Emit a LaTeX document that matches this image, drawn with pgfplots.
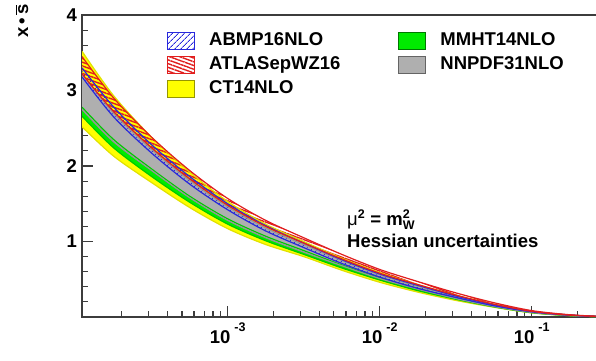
\documentclass[border=0pt]{standalone}
\usepackage{fontspec}
\setmainfont{Liberation Sans}
\usepackage{pgfplots}
\pgfplotsset{compat=1.18}
\usepackage{pgfplotstable}
\usepgfplotslibrary{fillbetween}
\usetikzlibrary{patterns.meta}

\definecolor{ctc}{RGB}{255,255,0}
\definecolor{cte}{RGB}{225,225,0}
\definecolor{ctb}{RGB}{150,150,0}
\definecolor{mmc}{RGB}{0,235,0}
\definecolor{mme}{RGB}{0,200,0}
\definecolor{mmb}{RGB}{0,120,0}
\definecolor{nnc}{RGB}{175,175,175}
\definecolor{nne}{RGB}{150,150,150}
\definecolor{nnb}{RGB}{100,100,100}
\definecolor{abc}{RGB}{40,40,220}
\definecolor{atc}{RGB}{225,30,30}
\definecolor{axc}{RGB}{60,60,60}

\pgfplotstableread{
x lo hi
1.1e-4 2.52 3.52
1.778e-4 2.13 2.93
3.162e-4 1.78 2.38
5.623e-4 1.45 1.92
1e-3 1.17 1.53
1.778e-3 0.96 1.23
3.162e-3 0.80 1.00
5.623e-3 0.62 0.78
1e-2 0.46 0.59
1.778e-2 0.33 0.43
3.162e-2 0.22 0.29
5.623e-2 0.13 0.17
0.1 0.055 0.075
0.1778 0.018 0.026
0.3 0.002 0.004
}\ctdata

\pgfplotstableread{
x lo hi
1.1e-4 2.66 2.78
1.778e-4 2.24 2.35
3.162e-4 1.86 1.96
5.623e-4 1.52 1.60
1e-3 1.23 1.30
1.778e-3 1.01 1.07
3.162e-3 0.83 0.88
5.623e-3 0.65 0.69
1e-2 0.49 0.52
1.778e-2 0.35 0.38
3.162e-2 0.235 0.25
5.623e-2 0.135 0.145
0.1 0.057 0.062
0.1778 0.019 0.021
0.3 0.002 0.003
}\mmdata

\pgfplotstableread{
x lo hi
1.1e-4 2.75 3.22
1.778e-4 2.32 2.70
3.162e-4 1.94 2.22
5.623e-4 1.58 1.81
1e-3 1.28 1.46
1.778e-3 1.05 1.18
3.162e-3 0.86 0.96
5.623e-3 0.68 0.75
1e-2 0.51 0.56
1.778e-2 0.37 0.41
3.162e-2 0.245 0.275
5.623e-2 0.14 0.16
0.1 0.06 0.07
0.1778 0.02 0.024
0.3 0.002 0.004
}\nndata

\pgfplotstableread{
x lo hi
1.1e-4 3.18 3.30
1.778e-4 2.65 2.78
3.162e-4 2.17 2.28
5.623e-4 1.76 1.86
1e-3 1.42 1.50
1.778e-3 1.14 1.21
3.162e-3 0.92 0.98
5.623e-3 0.71 0.76
1e-2 0.53 0.57
1.778e-2 0.38 0.42
3.162e-2 0.26 0.28
5.623e-2 0.15 0.165
0.1 0.068 0.075
0.1778 0.024 0.027
0.3 0.003 0.004
}\abdata

\pgfplotstableread{
x lo hi
1.1e-4 3.22 3.45
1.778e-4 2.72 2.90
3.162e-4 2.24 2.38
5.623e-4 1.83 1.94
1e-3 1.48 1.57
1.778e-3 1.20 1.28
3.162e-3 0.98 1.05
5.623e-3 0.77 0.83
1e-2 0.58 0.63
1.778e-2 0.43 0.47
3.162e-2 0.29 0.32
5.623e-2 0.17 0.19
0.1 0.075 0.085
0.1778 0.025 0.030
0.3 0.004 0.006
}\atdata

\pgfplotsset{
  legimg/.style={legend image code/.code={\draw[##1, line width=1pt] (0pt,-8.5pt) rectangle (27pt,8.5pt);}},
}

\begin{document}
\begin{tikzpicture}
\begin{axis}[
  at={(0,0)}, anchor=south west,
  scale only axis, width=522.2pt, height=302pt,
  xmode=log, xmin=1.1e-4, xmax=0.3, ymin=0, ymax=4,
  xtick={1e-3,1e-2,1e-1},
  xticklabels={{10\hspace{4pt}\raisebox{12pt}{\fontsize{12.5}{13}\selectfont -3}},
               {10\hspace{4pt}\raisebox{12pt}{\fontsize{12.5}{13}\selectfont -2}},
               {10\hspace{4pt}\raisebox{12pt}{\fontsize{12.5}{13}\selectfont -1}}},
  minor xtick={2e-4,3e-4,4e-4,5e-4,6e-4,7e-4,8e-4,9e-4,
               2e-3,3e-3,4e-3,5e-3,6e-3,7e-3,8e-3,9e-3,
               2e-2,3e-2,4e-2,5e-2,6e-2,7e-2,8e-2,9e-2,2e-1,3e-1},
  ytick={0,1,2,3,4}, yticklabels={,1,2,3,4},
  minor y tick num=4,
  tick align=inside, xtick pos=bottom, ytick pos=left,
  major tick length=11pt, minor tick length=6pt,
  tick style={line width=1.1pt, color=axc},
  axis line style={line width=1.3pt, color=axc},
  ticklabel style={font=\bfseries\fontsize{18.5}{20}\selectfont},
  xticklabel style={anchor=north, inner sep=0pt, yshift=-6pt},
  yticklabel style={anchor=east, inner sep=0pt, xshift=-5pt},
  ylabel={x\,•\,$\overline{\mbox{\bfseries\fontsize{18.5}{20}\selectfont s}}$},
  ylabel style={at={(axis description cs:-0.1034,0.924)}, anchor=base west, inner sep=0pt,
    font=\bfseries\fontsize{18.5}{20}\selectfont},
  legend columns=2,
  legend style={draw=none, fill=none, at={(0.1628,0.9454)}, anchor=north west,
    font=\bfseries\fontsize{18.5}{20}\selectfont,
    inner sep=0pt, row sep=6pt,
    cells={anchor=west},
    nodes={inner sep=0pt, text height=13pt, text depth=4pt},
    /tikz/column 1/.style={column sep=14pt},
    /tikz/column 2/.style={column sep=58pt},
    /tikz/column 3/.style={column sep=14pt}},
]
\addlegendimage{legimg, draw=abc, pattern={Lines[angle=45,distance=4pt,line width=0.8pt]}, pattern color=abc}
\addlegendentry{ABMP16NLO}
\addlegendimage{legimg, draw=mmb, fill=mmc}
\addlegendentry{MMHT14NLO}
\addlegendimage{legimg, draw=atc, pattern={Lines[angle=-20,distance=3.5pt,line width=1.4pt]}, pattern color=atc}
\addlegendentry{ATLASepWZ16}
\addlegendimage{legimg, draw=nnb, fill=nnc}
\addlegendentry{NNPDF31NLO}
\addlegendimage{legimg, draw=ctb, fill=ctc}
\addlegendentry{CT14NLO}

% CT14
\addplot[forget plot, smooth, draw=cte, line width=1.2pt, name path=cthi] table[x=x,y=hi]{\ctdata};
\addplot[forget plot, smooth, draw=cte, line width=1.2pt, name path=ctlo] table[x=x,y=lo]{\ctdata};
\addplot[forget plot, fill=ctc] fill between[of=cthi and ctlo];
% MMHT
\addplot[forget plot, smooth, draw=mme, line width=1.2pt, name path=mmhi] table[x=x,y=hi]{\mmdata};
\addplot[forget plot, smooth, draw=mme, line width=1.2pt, name path=mmlo] table[x=x,y=lo]{\mmdata};
\addplot[forget plot, fill=mmc] fill between[of=mmhi and mmlo];
% NNPDF
\addplot[forget plot, smooth, draw=nne, line width=1.2pt, name path=nnhi] table[x=x,y=hi]{\nndata};
\addplot[forget plot, smooth, draw=nne, line width=1.2pt, name path=nnlo] table[x=x,y=lo]{\nndata};
\addplot[forget plot, fill=nnc] fill between[of=nnhi and nnlo];
% ABMP
\addplot[forget plot, smooth, draw=abc, line width=1.2pt, name path=abhi] table[x=x,y=hi]{\abdata};
\addplot[forget plot, smooth, draw=abc, line width=1.2pt, name path=ablo] table[x=x,y=lo]{\abdata};
\addplot[forget plot, pattern={Lines[angle=45,distance=4pt,line width=0.8pt]}, pattern color=abc] fill between[of=abhi and ablo];
% ATLAS
\addplot[forget plot, smooth, draw=atc, line width=1.2pt, name path=athi] table[x=x,y=hi]{\atdata};
\addplot[forget plot, smooth, draw=atc, line width=1.2pt, name path=atlo] table[x=x,y=lo]{\atdata};
\addplot[forget plot, pattern={Lines[angle=-20,distance=3.5pt,line width=1.4pt]}, pattern color=atc] fill between[of=athi and atlo];

\node[anchor=base west, inner sep=0pt, font=\bfseries\fontsize{18.5}{20}\selectfont]
  at (rel axis cs:0.5075,0.3046)
  {{\mdseries μ}$^{\mbox{\fontsize{12.5}{13}\selectfont\bfseries 2}}$ = m$^{\mbox{\fontsize{12.5}{13}\selectfont\bfseries 2}}_{\mbox{\fontsize{12.5}{13}\selectfont\bfseries W}}$};
\node[anchor=base west, inner sep=0pt, font=\bfseries\fontsize{18.5}{20}\selectfont]
  at (rel axis cs:0.5075,0.2318) {Hessian uncertainties};
\end{axis}
\pgfresetboundingbox
\useasboundingbox (-82pt,-43pt) rectangle (514pt,317pt);
\end{tikzpicture}
\end{document}
